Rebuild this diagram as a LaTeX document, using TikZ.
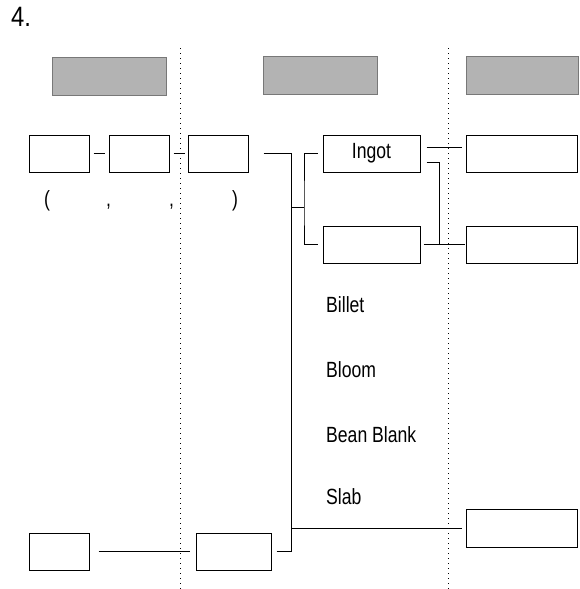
\documentclass[tikz,border=0pt]{standalone}
\usepackage{fontspec}
\setmainfont{Liberation Sans}
\definecolor{hdrfill}{RGB}{179,179,179}
\definecolor{hdrline}{RGB}{120,120,120}
\newcommand\nt[1]{\scalebox{0.8}[1]{#1}}
\begin{document}
\begin{tikzpicture}[x=1pt,y=-1pt,
  box/.style={draw=black,line width=1pt,inner sep=0pt,minimum height=37pt,font=\fontsize{22}{26}\selectfont},
  hdr/.style={draw=hdrline,fill=hdrfill,line width=0.8pt,minimum width=114pt,minimum height=38pt,inner sep=0pt},
  conn/.style={draw=black,line width=1pt},
  sep/.style={draw=black,line width=1pt,dash pattern=on 1pt off 4pt},
  lbl/.style={anchor=base west,inner sep=0pt,font=\fontsize{22}{26}\selectfont}]
\useasboundingbox (0,0) rectangle (580,589);
% separators
\coordinate (s1t) at (180,48); \coordinate (s1b) at (180,589);
\coordinate (s2t) at (448,48); \coordinate (s2b) at (448,589);
\draw[sep] (s1t) -- (s1b);
\draw[sep] (s2t) -- (s2b);
% title
\node[lbl,font=\fontsize{28}{32}\selectfont] (title) at (11,27) {\scalebox{0.85}[1]{4.}};
% headers
\node[hdr] (G1) at (109,76) {};
\node[hdr] (G2) at (320,75) {};
\node[hdr,minimum width=112pt] (G3) at (522,75) {};
% top row
\node[box,minimum width=60pt] (A) at (59,153.5) {};
\node[box,minimum width=60pt] (B) at (139,153.5) {};
\node[box,minimum width=60pt] (C) at (218,153.5) {};
\node[lbl] (p1) at (44,206) {\nt{(}};
\node[lbl] (p2) at (106,206) {\nt{,}};
\node[lbl] (p3) at (169,206) {\nt{,}};
\node[lbl] (p4) at (232,206) {\nt{)}};
% middle boxes
\node[box,minimum width=97pt] (Ing) at (371.5,153.5) {\nt{Ingot}};
\node[box,minimum width=97pt] (Low) at (371.5,244.5) {};
\node[box,minimum width=111pt] (R1) at (521.5,153.5) {};
\node[box,minimum width=111pt] (R2) at (521.5,244.5) {};
\node[box,minimum width=111pt,minimum height=38pt] (R3) at (521.5,528) {};
% bottom row
\node[box,minimum width=60pt] (BL) at (59,551.5) {};
\node[box,minimum width=75pt] (BM) at (233.5,551.5) {};
% labels
\node[lbl] (billet) at (326,312) {\nt{Billet}};
\node[lbl] (bloom) at (326,377) {\nt{Bloom}};
\node[lbl] (bean) at (326,442) {\nt{Bean Blank}};
\node[lbl] (slab) at (326,504) {\nt{Slab}};
% connectors
\coordinate (T1) at (291,153.5);
\coordinate (T2) at (291,551.5);
\coordinate (Tb) at (291,207);
\coordinate (Bv) at (304,207);
\coordinate (Ts) at (291,528);
\coordinate (J) at (439,244.5);
\draw[conn] ([xshift=4pt]A.east) -- ([xshift=-4pt]B.west);
\draw[conn] ([xshift=4pt]B.east) -- ([xshift=-3pt]C.west);
\draw[conn] ([xshift=15pt]C.east) -- (T1) -- (T2);
\draw[conn] ([xshift=5pt]BM.east) -- (T2);
\draw[conn] ([xshift=9pt]BL.east) -- ([xshift=-6pt]BM.west);
\draw[conn] (Tb) -- (Bv);
\draw[conn] ([xshift=-5pt]Ing.west) -| (Bv) |- ([xshift=-5pt]Low.west);
\draw[conn] (Ts) -- ([xshift=-4pt]R3.west);
\draw[conn] ([xshift=6pt,yshift=6.5pt]Ing.east) -- ([xshift=-4pt,yshift=6.5pt]R1.west);
\draw[conn] ([xshift=6pt,yshift=-8.5pt]Ing.east) -| (J);
\draw[conn] ([xshift=3pt]Low.east) -- ([xshift=-1pt]R2.west);
\end{tikzpicture}
\end{document}
